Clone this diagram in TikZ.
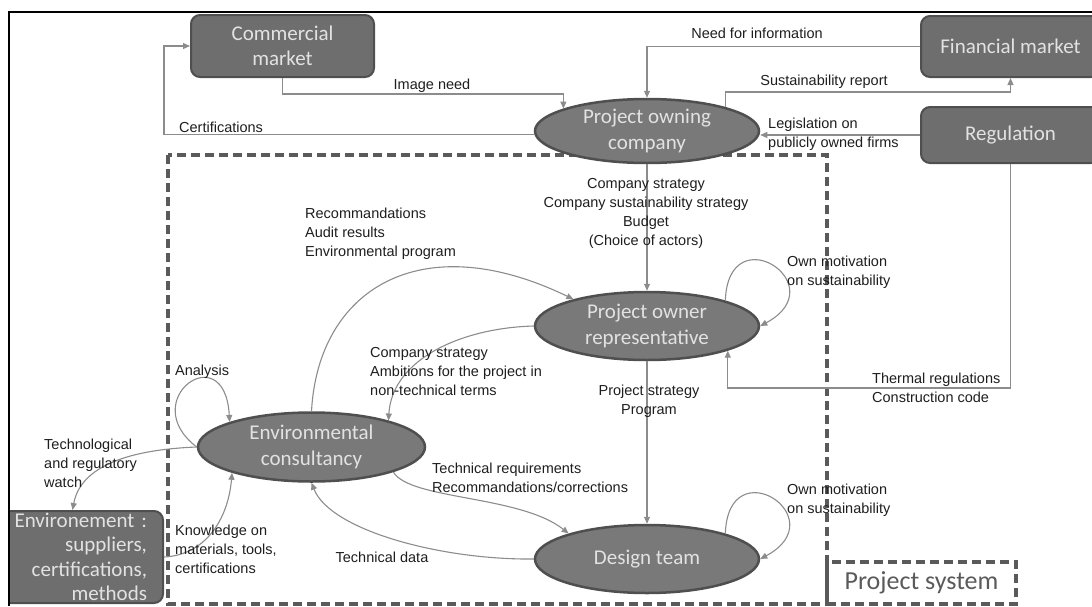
\documentclass[tikz,border=0pt]{standalone}
\usepackage{fontspec}
\setmainfont{Liberation Sans}
\newfontfamily\calibfont{Carlito}
\usetikzlibrary{shapes.geometric,arrows.meta}

\definecolor{boxfill}{HTML}{6E6E6E}
\definecolor{boxline}{HTML}{4F4F4F}
\definecolor{ellfill}{HTML}{797979}
\definecolor{nodetext}{HTML}{E2E2E2}
\definecolor{flowgray}{HTML}{8C8C8C}
\definecolor{dashgray}{HTML}{5A5A5A}
\definecolor{lbltext}{HTML}{1E1E1E}

\tikzset{
  market/.style={draw=boxline, fill=boxfill, line width=2pt, rounded corners=9pt,
    text=nodetext, font=\calibfont\fontsize{21}{25}\selectfont, inner sep=0pt, align=center},
  actor/.style={ellipse, draw=boxline, fill=ellfill, line width=2.5pt, text=nodetext,
    font=\calibfont\fontsize{21}{26}\selectfont, inner sep=0pt, align=center,
    minimum width=224pt, minimum height=66pt},
  flow/.style={->, draw=flowgray, line width=1.1pt},
  lbl/.style={inner sep=0pt, text=lbltext, font=\fontsize{14.5}{19}\selectfont},
  sysline/.style={draw=dashgray, line width=3.5pt, dash pattern=on 9pt off 5pt},
}

\begin{document}
\begin{tikzpicture}[x=1pt, y=-1pt, >={Triangle[length=7pt,width=6pt]}]
    \useasboundingbox (0,0) rectangle (1092,606);

    % project system
    \draw[sysline] (168,155) rectangle (827,604);
    \node[sysline, minimum width=189pt, minimum height=42pt, inner sep=0pt, text=dashgray,
      font=\calibfont\fontsize{26}{30}\selectfont] (sys) at (921.5,583) {Project system};

    % markets and outside actors
    \node[market, minimum width=183pt, minimum height=62pt] (comm) at (282.5,46) {Commercial\\market};
    \node[market, minimum width=179pt, minimum height=61pt] (fin) at (1010.5,46.5) {Financial market};
    \node[market, minimum width=179pt, minimum height=56pt] (reg) at (1010.5,135) {Regulation};
    \begin{scope}
      \clip (9,400) rectangle (300,606);
      \node[market, anchor=north, minimum width=167pt, minimum height=92pt, text width=135pt,
        align=right, font=\calibfont\fontsize{21}{24.5}\selectfont] (env) at (79.5,510)
        {Environement :\\suppliers,\\certifications,\\methods};
    \end{scope}

    % actors
    \node[actor, minimum height=64pt] (poc) at (647,131) {Project owning\\company};
    \node[actor, minimum height=68pt] (por) at (647,326) {Project owner\\representative};
    \node[actor, minimum height=68pt] (dt) at (647,559) {Design team};
    \node[actor, minimum width=227pt, minimum height=69pt] (ec) at (311.5,447) {Environmental\\consultancy};

    % flows around the owning company
    \draw[flow] (comm.south) -- ++(0,16) -| (poc.165);
    \draw[flow] (poc.182) -| ([xshift=-26pt]comm.west) -- (comm.west);
    \draw[flow] (fin.west) -| (poc.north);
    \draw[flow] (poc.17) -- ++(0,-15) -| (fin.south);
    \draw[flow] (reg.west) -- (reg.west -| poc.east);
    \draw[flow] (reg.south) -- ++(0,224) -| (por.-17);

    % flows inside the project
    \draw[flow] (poc.south) -- (por.north);
    \draw[flow] (por.south) -- (dt.north);
    \draw[flow] (ec.north) .. controls (318,290) and (420,225) .. (por.160);
    \draw[flow] (por.west) .. controls (460,328) and (392,360) .. (ec.19);
    \draw[flow] (ec.-17) .. controls (410,500) and (520,495) .. (dt.162);
    \draw[flow] (dt.west) .. controls (440,560) and (330,530) .. (ec.south);
    \draw[flow] (por.18) .. controls +(3,-86) and +(76,-41) .. (por.east);
    \draw[flow] (dt.18) .. controls +(3,-86) and +(76,-41) .. (dt.east);
    \draw[flow] (ec.west) .. controls (135,400) and (225,335) .. (ec.163);

    % flows with the environment
    \draw[flow] (ec.west) .. controls (120,450) and (80,470) .. ([xshift=-7pt]env.north);
    \draw[flow] (env.east) .. controls (205,555) and (228,520) .. (ec.-162);

    % labels
    \node[lbl] (lImage) at (432,86) {Image need};
    \node[lbl, anchor=west] (lCert) at (179,127) {Certifications};
    \node[lbl] (lNeed) at (757,33) {Need for information};
    \node[lbl] (lReport) at (824,82) {Sustainability report};
    \node[lbl, anchor=west, align=left] (lLaw) at (768,134.5) {Legislation on\\publicly owned firms};
    \node[lbl, align=center] (lStrat) at (646,213) {Company strategy\\Company sustainability strategy\\Budget\\(Choice of actors)};
    \node[lbl, align=center] (lProg) at (649,401) {Project strategy\\Program};
    \node[lbl, anchor=west, align=left] (lThermal) at (872,387.5) {Thermal regulations\\Construction code};
    \node[lbl, anchor=west, align=left] (lOwnA) at (787,272) {Own motivation\\on sustainability};
    \node[lbl, anchor=west, align=left] (lOwnB) at (787,500) {Own motivation\\on sustainability};
    \node[lbl, anchor=west, align=left] (lReco) at (305,234) {Recommandations\\Audit results\\Environmental program};
    \node[lbl, anchor=west, align=left] (lAmb) at (370,371) {Company strategy\\Ambitions for the project in\\non-technical terms};
    \node[lbl, anchor=west] (lAnal) at (175,372) {Analysis};
    \node[lbl, anchor=west, align=left] (lWatch) at (44,463) {Technological\\and regulatory\\watch};
    \node[lbl, anchor=west, align=left] (lKnow) at (175,549) {Knowledge on\\materials, tools,\\certifications};
    \node[lbl, anchor=west, align=left] (lReq) at (432,478) {Technical requirements\\Recommandations/corrections};
    \node[lbl] (lData) at (382,557) {Technical data};

    % frame
    \draw[line width=2.2pt] (9,606) -- (9,12) -- (1092,12);
\end{tikzpicture}
\end{document}
